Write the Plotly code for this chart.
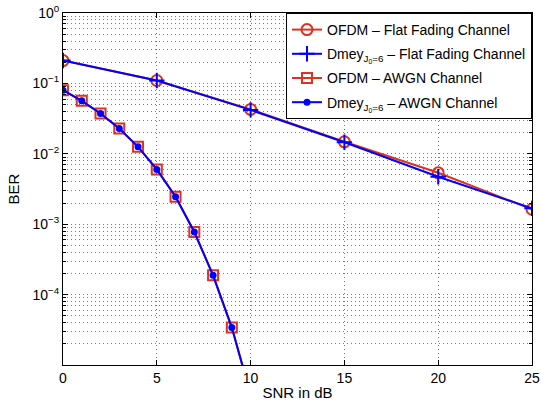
import plotly.graph_objects as go

# ---- data ----
snr_flat = [0, 5, 10, 15, 20, 25]
ber_ofdm_flat = [0.211, 0.110, 0.0427, 0.0148, 0.00537, 0.00163]
ber_dmey_flat = [0.211, 0.110, 0.0420, 0.0146, 0.00472, 0.00168]

snr_awgn = [0, 1, 2, 3, 4, 5, 6, 7, 8, 9, 10]
ber_ofdm_awgn = [0.0801, 0.0565, 0.0374, 0.0229, 0.01256, 0.0060, 0.00245, 7.75e-4, 1.88e-4, 3.4e-5, 3.8e-6]
ber_dmey_awgn = [0.0801, 0.0565, 0.0374, 0.0229, 0.01256, 0.0060, 0.00245, 7.75e-4, 1.88e-4, 3.4e-5, 3.8e-6]

names = [
    "OFDM – Flat Fading Channel",
    "Dmey<sub>J<sub>0</sub>=6</sub> – Flat Fading Channel",
    "OFDM – AWGN Channel",
    "Dmey<sub>J<sub>0</sub>=6</sub> – AWGN Channel",
]

x_ticks = [0, 5, 10, 15, 20, 25]
y_ticks = [1e-4, 1e-3, 1e-2, 1e-1, 1]
y_ticktext = ["10<sup>−4</sup>", "10<sup>−3</sup>", "10<sup>−2</sup>", "10<sup>−1</sup>", "10<sup>0</sup>"]

RED = "#dc321e"
BLUE = "#0000ff"
FONT = "Liberation Sans, Arial, Helvetica, sans-serif"
GRID = "#7a7a7a"
DASH = "1px,3px"

minor_y = [m * 10.0 ** e for e in range(-5, 0) for m in range(2, 10)]

fig = go.Figure()
fig.add_trace(go.Scatter(
    x=snr_flat, y=ber_ofdm_flat, name=names[0], mode="lines+markers", legendgroup="a",
    line=dict(color=RED, width=2),
    marker=dict(symbol="circle-open", size=11, color=RED, line=dict(width=2, color=RED)),
))
fig.add_trace(go.Scatter(
    x=snr_flat, y=ber_dmey_flat, name=names[1], mode="lines+markers", legendgroup="b",
    line=dict(color=BLUE, width=2),
    marker=dict(symbol="cross-thin-open", size=11, color=BLUE, line=dict(width=2, color=BLUE)),
))
fig.add_trace(go.Scatter(
    x=snr_awgn, y=ber_ofdm_awgn, name=names[2], mode="lines+markers", legendgroup="c",
    line=dict(color=RED, width=2),
    marker=dict(symbol="square-open", size=10, color=RED, line=dict(width=2, color=RED)),
))
fig.add_trace(go.Scatter(
    x=snr_awgn, y=ber_dmey_awgn, name=names[3], mode="lines+markers", legendgroup="d",
    line=dict(color=BLUE, width=2),
    marker=dict(symbol="circle", size=7, color=BLUE),
))

fig.update_layout(
    width=541, height=408,
    margin=dict(l=63, r=9, t=13, b=43),
    paper_bgcolor="white", plot_bgcolor="white",
    font=dict(family=FONT, size=14, color="black"),
    showlegend=True,
    legend=dict(
        x=1, y=1, xanchor="right", yanchor="top",
        bgcolor="white", bordercolor="black", borderwidth=1,
        font=dict(family=FONT, size=14, color="black"),
        tracegroupgap=3,
    ),
)

fig.update_xaxes(
    range=[0, 25], tickvals=x_ticks, automargin=False, ticklabeloverflow="allow",
    showline=True, linecolor="black", linewidth=1, mirror="allticks",
    ticks="inside", ticklen=5, tickcolor="black",
    showgrid=True, gridcolor=GRID, griddash=DASH, gridwidth=1,
    zeroline=False,
    title=dict(text="SNR in dB", font=dict(size=15), standoff=2),
    tickfont=dict(size=14),
)
fig.update_yaxes(
    type="log", range=[-5, 0], tickvals=y_ticks, ticktext=y_ticktext, automargin=False,
    ticklabeloverflow="allow",
    showline=True, linecolor="black", linewidth=1, mirror="allticks",
    ticks="inside", ticklen=5, tickcolor="black",
    showgrid=True, gridcolor=GRID, griddash=DASH, gridwidth=1,
    zeroline=False,
    minor=dict(tickmode="array", tickvals=minor_y, ticks="inside", ticklen=3,
               tickcolor="black", showgrid=True, gridcolor=GRID, griddash=DASH, gridwidth=1),
    title=dict(text="BER", font=dict(size=15), standoff=9),
    tickfont=dict(size=14),
)

# remove the browser's default 8px page margin so the figure fills the window exactly
fig.write_html("out.html", config=dict(displayModeBar=False),
               post_script="document.body.style.margin='0';")
